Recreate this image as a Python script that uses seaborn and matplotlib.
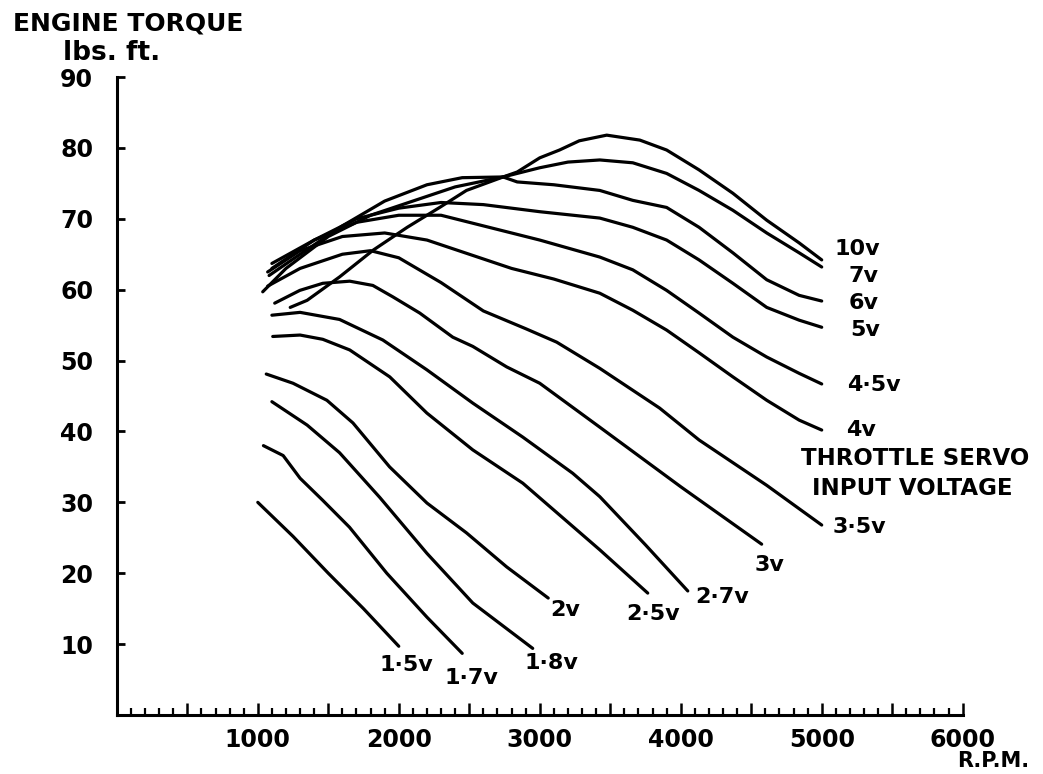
import matplotlib
matplotlib.use("Agg")
import matplotlib.pyplot as plt
import seaborn as sns
import pandas as pd
from matplotlib.ticker import MultipleLocator

sns.set_theme(style="white")
plt.rcParams["font.family"] = ["DejaVu Sans"]

# Torque curves (rpm, lbs.ft.) for each throttle servo input voltage
rpm_10v = [1230, 1350, 1580, 1820, 2060, 2290, 2480, 2740, 2840, 3000, 3140, 3280, 3475, 3710, 3900, 4130, 4370, 4610, 4840, 5000]
tq_10v = [57.5, 58.5, 61.8, 65.6, 68.8, 71.6, 74.0, 75.9, 76.6, 78.6, 79.7, 81.0, 81.8, 81.1, 79.7, 76.9, 73.6, 69.8, 66.6, 64.2]

rpm_7v = [1035, 1200, 1500, 1800, 2100, 2400, 2740, 3000, 3200, 3426, 3660, 3900, 4130, 4370, 4610, 4840, 5000]
tq_7v = [59.7, 63.0, 67.5, 70.5, 72.5, 74.5, 75.9, 77.2, 78.0, 78.3, 77.9, 76.4, 74.0, 71.2, 68.0, 65.2, 63.2]

rpm_6v = [1080, 1300, 1600, 1900, 2200, 2450, 2740, 2840, 3100, 3426, 3660, 3900, 4130, 4370, 4610, 4840, 5000]
tq_6v = [62.0, 65.0, 69.0, 72.5, 74.8, 75.8, 75.9, 75.2, 74.8, 74.0, 72.6, 71.6, 68.8, 65.2, 61.4, 59.2, 58.4]

rpm_5v = [1100, 1400, 1700, 2000, 2300, 2600, 3000, 3426, 3660, 3900, 4130, 4370, 4610, 4840, 5000]
tq_5v = [63.0, 67.0, 70.0, 71.5, 72.3, 72.0, 71.0, 70.1, 68.8, 67.0, 64.2, 60.9, 57.5, 55.7, 54.7]

rpm_45v = [1100, 1400, 1700, 2000, 2300, 2600, 3000, 3426, 3660, 3900, 4130, 4370, 4610, 4840, 5000]
tq_45v = [63.7, 67.0, 69.5, 70.5, 70.5, 69.0, 67.0, 64.6, 62.8, 59.9, 56.7, 53.3, 50.5, 48.2, 46.7]

rpm_4v = [1070, 1300, 1600, 1900, 2200, 2500, 2800, 3100, 3426, 3660, 3900, 4130, 4370, 4610, 4840, 5000]
tq_4v = [62.5, 65.5, 67.5, 68.0, 67.0, 65.0, 63.0, 61.5, 59.5, 57.1, 54.3, 51.1, 47.7, 44.4, 41.6, 40.2]

rpm_35v = [1070, 1300, 1600, 1800, 2000, 2300, 2600, 2900, 3120, 3426, 3850, 4130, 4610, 5000]
tq_35v = [60.5, 63.0, 65.0, 65.5, 64.5, 61.0, 57.0, 54.5, 52.6, 48.9, 43.3, 38.8, 32.4, 26.8]

rpm_3v = [1120, 1298, 1461, 1652, 1816, 1957, 2149, 2383, 2525, 2766, 3000, 3426, 4000, 4574]
tq_3v = [58.1, 59.9, 60.9, 61.2, 60.6, 59.0, 56.7, 53.3, 52.0, 49.1, 46.8, 40.6, 32.2, 24.1]

rpm_27v = [1100, 1300, 1580, 1887, 2199, 2525, 2880, 3234, 3426, 3750, 4050]
tq_27v = [56.4, 56.8, 55.8, 52.9, 48.7, 44.0, 39.2, 34.1, 30.8, 24.0, 17.5]

rpm_25v = [1106, 1300, 1461, 1652, 1936, 2199, 2525, 2880, 3426, 3766]
tq_25v = [53.4, 53.6, 53.0, 51.5, 47.7, 42.6, 37.4, 32.7, 23.3, 17.2]

rpm_2v = [1060, 1250, 1490, 1675, 1935, 2200, 2480, 2765, 3060]
tq_2v = [48.1, 46.8, 44.4, 41.2, 35.0, 29.9, 25.7, 20.9, 16.5]

rpm_18v = [1100, 1350, 1580, 1865, 2200, 2525, 2950]
tq_18v = [44.2, 40.9, 37.0, 30.7, 22.8, 15.8, 9.4]

rpm_17v = [1040, 1180, 1300, 1460, 1650, 1915, 2200, 2450]
tq_17v = [38.0, 36.6, 33.4, 30.3, 26.5, 20.0, 13.8, 8.7]

rpm_15v = [1000, 1250, 1500, 1750, 2000]
tq_15v = [30.0, 25.2, 20.0, 15.0, 9.7]

voltages = ["10v", "7v", "6v", "5v", "4·5v", "4v", "3·5v", "3v", "2·7v", "2·5v", "2v", "1·8v", "1·7v", "1·5v"]
rpm_sets = [rpm_10v, rpm_7v, rpm_6v, rpm_5v, rpm_45v, rpm_4v, rpm_35v, rpm_3v,
            rpm_27v, rpm_25v, rpm_2v, rpm_18v, rpm_17v, rpm_15v]
tq_sets = [tq_10v, tq_7v, tq_6v, tq_5v, tq_45v, tq_4v, tq_35v, tq_3v,
           tq_27v, tq_25v, tq_2v, tq_18v, tq_17v, tq_15v]

# Where each voltage tag sits, just past the end of its curve
label_rpm = [5255, 5298, 5298, 5305, 5369, 5277, 5270, 4631, 4291, 3801, 3177, 3085, 2518, 2057]
label_tq = [65.7, 61.9, 58.1, 54.3, 46.5, 40.2, 26.5, 21.2, 16.6, 14.2, 14.8, 7.3, 5.2, 7.1]

frames = []
for v, r, t in zip(voltages, rpm_sets, tq_sets):
    frames.append(pd.DataFrame({"rpm": r, "torque": t, "voltage": v}))
df = pd.concat(frames, ignore_index=True)

fig = plt.figure(figsize=(10.43, 7.74), dpi=100)
ax = fig.add_axes([0.112, 0.0762, 0.811, 0.8243])

sns.lineplot(data=df, x="rpm", y="torque", hue="voltage", units="voltage",
             estimator=None, sort=False, legend=False,
             palette=["black"] * len(voltages), linewidth=2.3, ax=ax,
             solid_capstyle="round", solid_joinstyle="round")

ax.set_xlim(0, 6000)
ax.set_ylim(0, 90)
ax.set_xlabel("")
ax.set_ylabel("")

for side in ("top", "right"):
    ax.spines[side].set_visible(False)
for side in ("left", "bottom"):
    ax.spines[side].set_linewidth(2.2)
    ax.spines[side].set_color("black")

ink = "black"
lab_font = dict(family="DejaVu Sans", weight="bold", color=ink)
tick_font = dict(family="DejaVu Sans", weight="bold", size=17, color=ink)

# y axis: ticks every 10 pointing into the plot
ax.set_yticks(range(0, 91, 10))
ax.set_yticklabels(["" if v == 0 else str(v) for v in range(0, 91, 10)], fontdict=tick_font)
ax.tick_params(axis="y", which="major", direction="in", length=6, width=2,
               color=ink, labelcolor=ink, labelsize=17, pad=17, left=True)

# x axis: every 100 rpm small, every 500 rpm taller
xt = list(range(0, 6001, 500))
ax.set_xticks(xt)
ax.set_xticklabels([str(v) if v % 1000 == 0 and v > 0 else "" for v in xt], fontdict=tick_font)
ax.xaxis.set_minor_locator(MultipleLocator(100))
ax.tick_params(axis="x", which="major", direction="in", length=9, width=1.8,
               color=ink, labelcolor=ink, labelsize=17, pad=9, bottom=True)
ax.tick_params(axis="x", which="minor", direction="in", length=5, width=1.6,
               color=ink, bottom=True)
ax.grid(False)

# Axis titles
fig.text(0.012, 0.969, "ENGINE TORQUE", ha="left", va="center", fontsize=18, **lab_font)
fig.text(0.107, 0.931, "lbs. ft.", ha="center", va="center", fontsize=19, **lab_font)
fig.text(0.952, 0.017, "R.P.M.", ha="center", va="center", fontsize=15, **lab_font)

# Voltage tags
for v, xr, yt in zip(voltages, label_rpm, label_tq):
    ax.text(xr, yt, v, ha="center", va="center", fontsize=16, clip_on=False, **lab_font)

ax.text(5660, 36.2, "THROTTLE SERVO", ha="center", va="center", fontsize=16.5, clip_on=False, **lab_font)
ax.text(5645, 31.9, "INPUT VOLTAGE", ha="center", va="center", fontsize=16.5, clip_on=False, **lab_font)

fig.savefig("out.png", dpi=100, facecolor="white")
